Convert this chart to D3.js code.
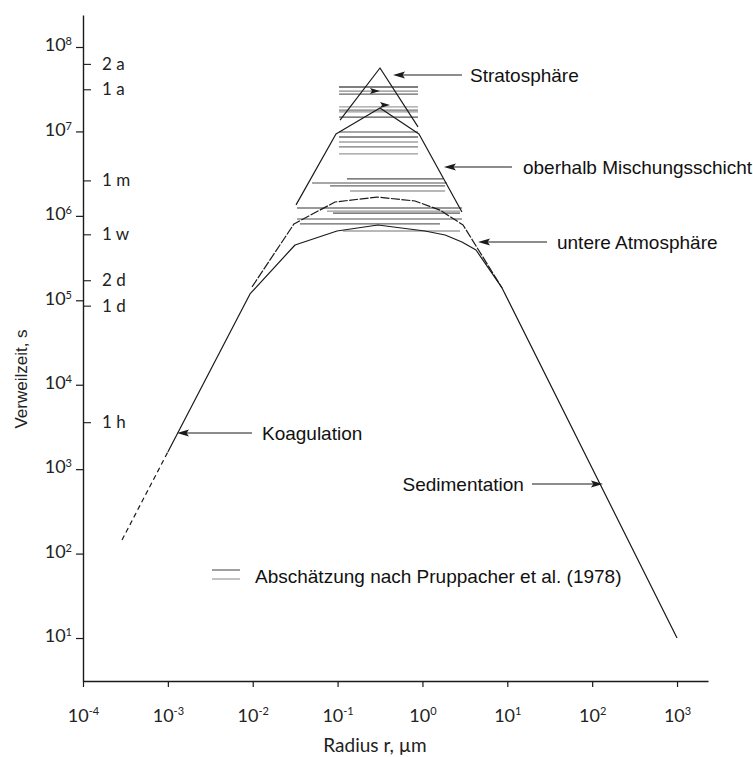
<!DOCTYPE html>
<html><head><meta charset="utf-8">
<script src="https://cdn.jsdelivr.net/npm/d3@7"></script>
<style>body{margin:0;background:#fff}</style>
</head><body>
<svg id="c" width="753" height="757" xmlns="http://www.w3.org/2000/svg"></svg>
<script>
// ---------- data ----------
const xTickExps = [-4, -3, -2, -1, 0, 1, 2, 3];
const yTickExps = [1, 2, 3, 4, 5, 6, 7, 8];
const timeLabels  = ["2 a", "1 a", "1 m", "1 w", "2 d", "1 d", "1 h"];
const timeSeconds = [6.31e7, 3.156e7, 2.63e6, 604800, 172800, 86400, 3600];

// Koagulation, dashed part (radius µm, time s)
const coagDashR = [2.88e-4, 1e-3];
const coagDashT = [145, 1600];
// lower curve: untere Atmosphäre (incl. Koagulation and Sedimentation branches)
const lowerR = [1e-3, 9.29e-3, 0.0315, 0.0984, 0.299, 1.07, 1.85, 2.92, 4.28, 8.67, 1000];
const lowerT = [1600, 1.19e5, 4.52e5, 6.62e5, 7.80e5, 6.62e5, 5.93e5, 4.90e5, 3.94e5, 1.40e5, 10];
// second curve just above it
const upperR = [9.82e-3, 0.0306, 0.0933, 0.292, 0.817, 1.61, 3.01, 8.67];
const upperT = [1.44e5, 8.02e5, 1.46e6, 1.67e6, 1.50e6, 1.17e6, 7.80e5, 1.40e5];
// oberhalb Mischungsschicht
const mixR = [0.0324, 0.0957, 0.316, 0.910, 2.92];
const mixT = [1.35e6, 9.33e6, 1.90e7, 9.33e6, 1.11e6];
// Stratosphäre
const stratR = [0.107, 0.316, 0.887];
const stratT = [1.36e7, 5.64e7, 1.13e7];

// Pruppacher et al. (1978) estimates: horizontal bars
const hatchT  = [3.36e7, 3.01e7, 2.77e7, 1.95e7, 1.79e7, 1.70e7, 1.48e7,
                 9.84e6, 8.59e6, 7.50e6, 6.55e6, 5.41e6,
                 2.74e6, 2.45e6, 2.26e6, 1.97e6,
                 1.24e6, 1.14e6, 1.08e6, 9.18e5, 8.02e5, 6.62e5];
const hatchR1 = [0.104, 0.104, 0.104, 0.104, 0.104, 0.104, 0.104,
                 0.104, 0.104, 0.104, 0.104, 0.104,
                 0.129, 0.050, 0.0815, 0.140,
                 0.0333, 0.075, 0.0883, 0.0333, 0.036, 0.116];
const hatchR2 = [0.887, 0.887, 0.887, 0.887, 0.887, 0.887, 0.887,
                 0.887, 0.887, 0.887, 0.887, 0.887,
                 1.75, 1.95, 1.85, 1.85,
                 2.92, 2.77, 2.77, 2.92, 1.61, 2.77];
// small arrowheads inside the Stratosphäre triangle
const smallArrowR = [0.316, 0.415];
const smallArrowT = [3.01e7, 2.06e7];

// annotations
const annLabels = ["Stratosphäre", "oberhalb Mischungsschicht", "untere Atmosphäre", "Koagulation", "Sedimentation"];
const annTipR   = [0.450, 1.79, 4.52, 1.28e-3, 134];
const annTailR  = [2.92, 11.35, 29.4, 9.82e-3, 19.5];
const annTextR  = [3.63, 15.3, 38.5, 0.01285, 15.7];
const annT      = [4.66e7, 3.79e6, 4.90e5, 2680, 667];
const annAnchor = ["start", "start", "start", "start", "end"];

const legendText = "Abschätzung nach Pruppacher et al. (1978)";
const xTitle = "Radius r, µm";
const yTitle = "Verweilzeit, s";

// ---------- drawing ----------
const svg = d3.select("#c");
const x = d3.scaleLog().domain([1e-4, Math.pow(10, 3.365)]).range([83, 708]);
const y = d3.scaleLog().domain([Math.pow(10, 0.491), Math.pow(10, 8.379)]).range([681, 15]);
const axisFont = "Lato, 'DejaVu Sans', sans-serif";
const textFont = "'Liberation Sans', Arial, sans-serif";
const ink = "#1a1a1a";

// hatch bars
const hatchColors = ["#555", "#8a8a8a", "#666", "#a0a0a0", "#777", "#999"];
svg.append("g").selectAll("line").data(d3.range(hatchT.length)).join("line")
  .attr("x1", i => x(hatchR1[i])).attr("x2", i => x(hatchR2[i]))
  .attr("y1", i => y(hatchT[i])).attr("y2", i => y(hatchT[i]))
  .attr("stroke", i => hatchColors[i % hatchColors.length])
  .attr("stroke-width", 1.3);

// curves
const zip = (a, b) => a.map((v, i) => [v, b[i]]);
const line = d3.line().x(d => x(d[0])).y(d => y(d[1]));
const curves = svg.append("g").attr("fill", "none").attr("stroke", ink).attr("stroke-width", 1.2)
  .attr("stroke-linejoin", "round");
curves.append("path").attr("d", line(zip(coagDashR, coagDashT))).attr("stroke-dasharray", "5,3.5");
curves.append("path").attr("d", line(zip(lowerR, lowerT)));
curves.append("path").attr("d", line(zip(upperR, upperT))).attr("stroke-dasharray", "9,1.5");
curves.append("path").attr("d", line(zip(mixR, mixT)));
curves.append("path").attr("d", line(zip(stratR, stratT)));

// arrowhead helper (pixel geometry of the tip)
function arrowHead(g, tx, ty, dir, len, half) {
  g.append("path")
    .attr("d", `M${tx},${ty} L${tx - dir * len},${ty - half} L${tx - dir * len * 0.8},${ty} L${tx - dir * len},${ty + half} Z`)
    .attr("fill", ink);
}
const arrows = svg.append("g");
smallArrowR.forEach((r, i) => arrowHead(arrows, x(r), y(smallArrowT[i]), 1, 10, 3));

// annotations
annLabels.forEach((lab, i) => {
  const ty = y(annT[i]);
  const tip = x(annTipR[i]), tail = x(annTailR[i]);
  const dir = tip > tail ? 1 : -1;
  arrows.append("line").attr("x1", tail).attr("x2", tip - dir * 6).attr("y1", ty).attr("y2", ty)
    .attr("stroke", ink).attr("stroke-width", 1.2);
  arrowHead(arrows, tip, ty, dir, 12, 3.5);
  svg.append("text").attr("x", x(annTextR[i])).attr("y", ty).attr("dy", "0.36em")
    .attr("text-anchor", annAnchor[i]).attr("font-family", textFont).attr("font-size", 19)
    .attr("fill", "#111").text(lab);
});

// legend
const lg = svg.append("g");
lg.append("line").attr("x1", 212).attr("x2", 240).attr("y1", 570).attr("y2", 570).attr("stroke", "#777").attr("stroke-width", 1.4);
lg.append("line").attr("x1", 212).attr("x2", 240).attr("y1", 579).attr("y2", 579).attr("stroke", "#aaa").attr("stroke-width", 1.4);
lg.append("text").attr("x", 255).attr("y", 583).attr("font-family", textFont).attr("font-size", 19)
  .attr("fill", "#111").text(legendText);

// axes
function powLabel(sel, exps, baseSize, supSize, supDy) {
  sel.each(function (d, i) {
    const t = d3.select(this).text(null);
    t.append("tspan").text("10").attr("font-size", baseSize);
    t.append("tspan").text(String(exps[i]).replace("-", "-")).attr("font-size", supSize).attr("dy", supDy);
  });
}
const gx = svg.append("g").attr("transform", "translate(0,681)")
  .call(d3.axisBottom(x).tickValues(xTickExps.map(e => Math.pow(10, e))).tickSize(6).tickSizeOuter(0));
gx.select(".domain").attr("stroke", ink).attr("stroke-width", 1.4);
gx.selectAll(".tick line").attr("stroke", ink).attr("stroke-width", 1.2);
gx.selectAll(".tick text").attr("y", 41).attr("dy", null).attr("font-family", axisFont).attr("fill", "#222")
  .call(powLabel, xTickExps, 18, 11, -7);

const gy = svg.append("g").attr("transform", "translate(83,0)")
  .call(d3.axisLeft(y).tickValues(yTickExps.map(e => Math.pow(10, e))).tickSize(7).tickSizeOuter(0).tickPadding(4));
gy.select(".domain").attr("stroke", ink).attr("stroke-width", 1.4);
gy.selectAll(".tick line").attr("stroke", ink).attr("stroke-width", 1.2);
gy.selectAll(".tick text").attr("dy", "0.38em").attr("font-family", axisFont).attr("fill", "#222")
  .call(powLabel, yTickExps, 18, 11, -6);

const gt = svg.append("g").attr("transform", "translate(84,0)")
  .call(d3.axisRight(y).tickValues(timeSeconds).tickSize(7).tickPadding(11).tickFormat((d, i) => timeLabels[i]));
gt.select(".domain").remove();
gt.selectAll(".tick line").attr("stroke", ink).attr("stroke-width", 1.1);
gt.selectAll(".tick text").attr("font-family", axisFont).attr("font-size", 17).attr("fill", "#222");

// titles
svg.append("text").attr("x", 375).attr("y", 752).attr("text-anchor", "middle")
  .attr("font-family", axisFont).attr("font-size", 19).attr("fill", "#222").text(xTitle);
svg.append("text").attr("transform", "translate(27,379) rotate(-90)").attr("text-anchor", "middle")
  .attr("font-family", textFont).attr("font-size", 17).attr("fill", "#222").text(yTitle);
</script>
</body></html>
